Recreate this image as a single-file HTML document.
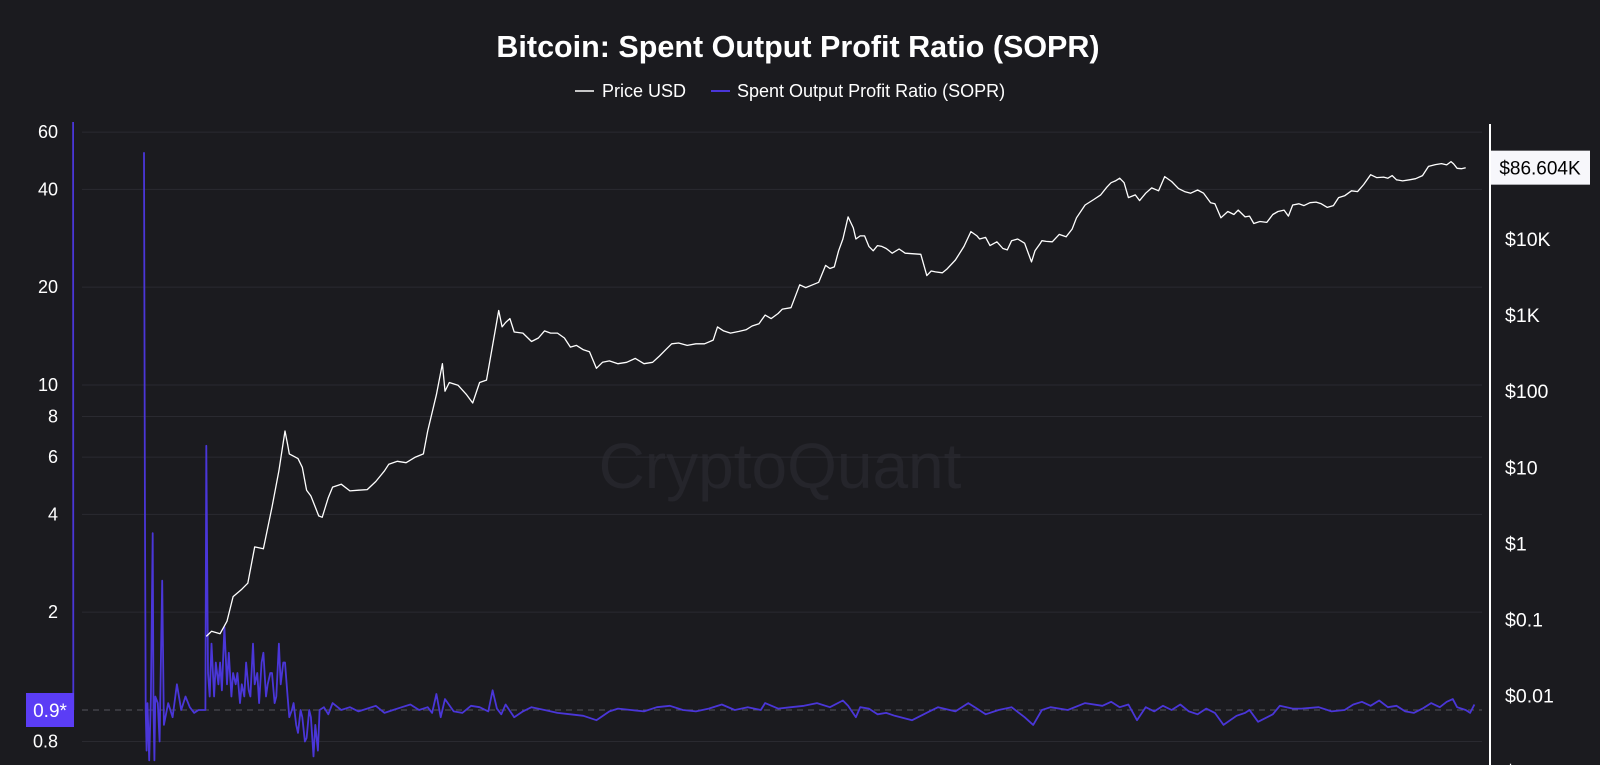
<!DOCTYPE html>
<html><head><meta charset="utf-8"><style>
html,body{margin:0;padding:0;background:#1b1b1f;}
body{width:1600px;height:765px;overflow:hidden;font-family:"Liberation Sans",sans-serif;}
</style></head><body>
<svg id="chart" width="1600" height="765" xmlns="http://www.w3.org/2000/svg" style="display:block">
<rect width="1600" height="765" fill="#1b1b1f"/>
<text x="798" y="57" text-anchor="middle" fill="#ffffff" font-size="30.5" font-weight="bold">Bitcoin: Spent Output Profit Ratio (SOPR)</text>
<g>
<g><line x1="575" y1="91" x2="594" y2="91" stroke="#ffffff" stroke-width="1.5"/><text x="602" y="97" fill="#ffffff" font-size="18">Price USD</text></g>
<g><line x1="711" y1="91" x2="730" y2="91" stroke="#4a36d8" stroke-width="2"/><text x="737" y="97" fill="#ffffff" font-size="18">Spent Output Profit Ratio (SOPR)</text></g>
</g>
<text x="780" y="488" text-anchor="middle" fill="#25252b" font-size="64">CryptoQuant</text>
<g id="grid"></g>
<g id="leftAxis"></g>
<g id="rightAxis"></g>
<g id="series"></g>
<g id="overlay"></g>
</svg>
<script>
const leftTicks=[60,40,20,10,8,6,4,2,0.8];
const rightTicks=[10000,1000,100,10,1,0.1,0.01,0.001];
const rightTickLabels=["$10K","$1K","$100","$10","$1","$0.1","$0.01","$0.001"];
const lastPriceLabel="$86.604K";
const soprMarkerLabel="0.9*";
const priceDates=[2010.54,2010.6,2010.7,2010.78,2010.85,2010.95,2011.02,2011.1,2011.2,2011.3,2011.38,2011.42,2011.45,2011.48,2011.5,2011.55,2011.6,2011.65,2011.7,2011.75,2011.8,2011.84,2011.88,2011.95,2012.0,2012.1,2012.2,2012.3,2012.4,2012.5,2012.6,2012.65,2012.75,2012.85,2012.95,2013.05,2013.1,2013.2,2013.27,2013.3,2013.35,2013.45,2013.55,2013.62,2013.7,2013.78,2013.85,2013.92,2013.96,2014.0,2014.05,2014.1,2014.2,2014.3,2014.38,2014.45,2014.52,2014.6,2014.68,2014.75,2014.82,2014.9,2014.97,2015.05,2015.12,2015.2,2015.3,2015.4,2015.5,2015.6,2015.7,2015.78,2015.85,2015.92,2016.0,2016.1,2016.2,2016.3,2016.4,2016.45,2016.52,2016.6,2016.7,2016.78,2016.85,2016.93,2017.0,2017.07,2017.15,2017.2,2017.3,2017.4,2017.47,2017.55,2017.62,2017.7,2017.75,2017.8,2017.85,2017.9,2017.96,2018.02,2018.05,2018.1,2018.15,2018.2,2018.25,2018.3,2018.35,2018.4,2018.47,2018.55,2018.62,2018.7,2018.8,2018.87,2018.92,2018.97,2019.05,2019.1,2019.2,2019.3,2019.38,2019.45,2019.48,2019.55,2019.6,2019.68,2019.75,2019.8,2019.85,2019.92,2020.0,2020.08,2020.12,2020.18,2020.2,2020.25,2020.32,2020.4,2020.48,2020.55,2020.6,2020.7,2020.8,2020.88,2020.95,2021.0,2021.05,2021.1,2021.15,2021.2,2021.28,2021.33,2021.4,2021.47,2021.55,2021.62,2021.7,2021.78,2021.85,2021.92,2022.0,2022.07,2022.15,2022.2,2022.27,2022.35,2022.42,2022.47,2022.55,2022.6,2022.65,2022.72,2022.8,2022.87,2022.93,2023.0,2023.05,2023.1,2023.17,2023.23,2023.3,2023.37,2023.43,2023.5,2023.57,2023.63,2023.7,2023.78,2023.85,2023.92,2024.0,2024.07,2024.15,2024.2,2024.25,2024.3,2024.37,2024.45,2024.52,2024.6,2024.67,2024.75,2024.82,2024.88,2024.93,2024.96,2025.0,2025.05,2025.1,2025.15,2025.2,2025.22];
const priceValues=[0.06,0.07,0.065,0.095,0.2,0.25,0.3,0.9,0.85,3,9,18,30,20,15,14,13,10,5,4.2,3,2.3,2.2,4,5.5,6,4.9,5,5.1,6.5,9,11,12,11.5,13.5,15,30,90,230,100,130,120,90,70,130,140,400,1150,700,800,900,600,580,450,500,620,580,580,500,380,400,350,330,200,240,250,230,240,270,230,240,290,350,420,430,400,420,420,470,700,620,580,610,640,720,770,1000,900,1050,1200,1250,2500,2300,2500,2700,4500,4100,4300,7000,10000,19500,14000,10000,11000,11000,8000,7000,8200,8000,7500,6500,7400,6500,6400,6300,3300,3800,3700,3600,4000,5300,8000,12500,11000,10000,10500,8200,9200,7500,7200,9500,10000,8800,5000,7000,8700,9500,9300,9200,11500,10700,13500,19000,28000,33000,38000,48000,55000,58000,63000,55000,35000,38000,32000,40000,47000,43000,66000,57000,46000,42000,40000,44000,40000,30000,29000,19000,23000,21000,24000,19500,20000,16000,17000,16500,21000,23000,24000,20000,28000,29000,27500,30000,30500,29000,26000,27500,35000,37000,43000,42000,52000,70000,64000,65000,63000,68000,60000,58000,60000,62000,68000,90000,95000,98000,94000,104000,97000,85000,84000,86604];
const soprDates=[2009.0,2009.003,null,2009.82,2009.83,2009.84,2009.85,2009.86,2009.88,2009.9,2009.92,2009.93,2009.94,2009.95,2009.98,2010.0,2010.03,2010.05,2010.1,2010.15,2010.2,2010.25,2010.3,2010.35,2010.4,2010.45,2010.53,2010.54,2010.56,2010.58,2010.6,2010.63,2010.65,2010.68,2010.7,2010.72,2010.75,2010.78,2010.8,2010.83,2010.85,2010.88,2010.9,2010.93,2010.95,2010.98,2011.0,2011.03,2011.05,2011.08,2011.1,2011.13,2011.15,2011.18,2011.2,2011.23,2011.25,2011.28,2011.3,2011.33,2011.35,2011.38,2011.4,2011.43,2011.45,2011.48,2011.5,2011.53,2011.55,2011.58,2011.6,2011.63,2011.65,2011.68,2011.7,2011.73,2011.75,2011.78,2011.8,2011.83,2011.85,2011.9,2011.95,2012.0,2012.1,2012.2,2012.3,2012.4,2012.5,2012.6,2012.7,2012.8,2012.9,2013.0,2013.1,2013.15,2013.2,2013.25,2013.3,2013.4,2013.5,2013.6,2013.7,2013.8,2013.85,2013.9,2013.95,2014.0,2014.1,2014.2,2014.3,2014.45,2014.6,2014.75,2014.9,2015.05,2015.2,2015.3,2015.45,2015.6,2015.75,2015.9,2016.05,2016.2,2016.35,2016.5,2016.65,2016.8,2016.95,2017.0,2017.15,2017.3,2017.45,2017.6,2017.75,2017.9,2017.96,2018.05,2018.1,2018.2,2018.3,2018.4,2018.5,2018.7,2018.9,2019.0,2019.2,2019.35,2019.45,2019.55,2019.7,2019.85,2020.0,2020.1,2020.2,2020.3,2020.5,2020.7,2020.9,2021.0,2021.1,2021.2,2021.3,2021.4,2021.5,2021.6,2021.7,2021.8,2021.9,2022.0,2022.1,2022.2,2022.3,2022.45,2022.55,2022.6,2022.7,2022.87,2022.95,2023.1,2023.2,2023.4,2023.55,2023.7,2023.8,2023.9,2024.0,2024.1,2024.2,2024.3,2024.4,2024.5,2024.6,2024.7,2024.8,2024.88,2024.95,2025.0,2025.1,2025.15,2025.2,2025.22];
const soprValues=[70,1.0,null,52,4.5,1.0,0.75,1.05,0.7,1.1,3.5,1.0,0.7,1.1,1.05,0.8,2.5,0.9,1.05,0.95,1.2,1.0,1.1,1.02,0.98,1.0,1.0,6.5,1.3,1.1,1.6,1.1,1.4,1.2,1.4,1.15,1.8,1.2,1.5,1.1,1.3,1.2,1.3,1.05,1.2,1.1,1.4,1.15,1.1,1.6,1.2,1.3,1.05,1.4,1.5,1.1,1.2,1.3,1.3,1.05,1.1,1.6,1.2,1.4,1.4,1.1,0.95,1.0,1.05,0.9,0.85,1.0,0.95,0.8,0.82,1.0,0.95,0.72,0.9,0.75,1.0,1.02,0.97,1.05,1.0,1.02,0.99,1.01,1.03,0.98,1.0,1.02,1.04,1.0,1.02,0.98,1.12,0.95,1.08,0.99,0.98,1.03,1.02,0.99,1.15,1.01,0.97,1.04,0.95,0.99,1.02,1.0,0.98,0.97,0.96,0.93,0.99,1.01,1.0,0.99,1.02,1.03,1.0,0.99,1.01,1.04,1.0,1.02,1.0,1.05,1.01,1.02,1.03,1.05,1.02,1.07,1.03,0.95,1.02,1.01,0.97,0.98,0.96,0.93,0.99,1.02,0.99,1.05,1.01,0.97,1.0,1.02,0.95,0.9,1.0,1.02,1.0,1.05,1.03,1.06,1.02,1.04,0.93,1.02,0.99,1.03,1.0,1.04,0.99,0.97,1.01,0.98,0.9,0.96,0.98,1.0,0.92,0.97,1.03,1.01,1.01,1.02,0.99,1.0,1.04,1.06,1.03,1.07,1.02,1.03,0.99,0.98,1.01,1.05,1.02,1.06,1.08,1.02,1.0,0.98,1.04];

const NS="http://www.w3.org/2000/svg";
const X0=82,X1=1482;
function xScale(t){return 285+86.5*(t-2011.45);}
function yLeft(v){return 385-325*(Math.log10(v)-1);}
function yRight(p){return 239-76.1*(Math.log10(p)-4);}
function mk(tag,attrs,parent){const e=document.createElementNS(NS,tag);for(const k in attrs)e.setAttribute(k,attrs[k]);parent.appendChild(e);return e;}

const grid=document.getElementById('grid');
const la=document.getElementById('leftAxis');
leftTicks.forEach(v=>{
  const y=yLeft(v);
  const g=mk('line',{x1:X0,x2:X1,y1:y,y2:y,stroke:'#2a2a30','stroke-width':1},grid);
  
  
  const t=mk('text',{x:58,y:y+6,'text-anchor':'end',fill:'#ffffff','font-size':18},la);
  t.textContent=String(v);
  
  
});
const ra=document.getElementById('rightAxis');
rightTicks.forEach((p,i)=>{
  const t=mk('text',{x:1505,y:yRight(p)+7,fill:'#ffffff','font-size':19.5},ra);
  t.textContent=rightTickLabels[i];
  
  
});
const rline=mk('line',{x1:1490,x2:1490,y1:124,y2:765,stroke:'#ffffff','stroke-width':2},ra);



const ser=document.getElementById('series');
const base=mk('line',{x1:X0,x2:X1,y1:yLeft(1),y2:yLeft(1),stroke:'#55555c','stroke-width':1,'stroke-dasharray':'6 5'},ser);



function clampY(y){return Math.max(122,Math.min(770,y));}
let d='',pen=false;
soprDates.forEach((t,i)=>{
  if(t===null||soprValues[i]===null){pen=false;return;}
  d+=(pen?'L':'M')+xScale(t).toFixed(1)+','+clampY(yLeft(soprValues[i])).toFixed(1);pen=true;
});
const sp=mk('path',{d:d,fill:'none',stroke:'#4a36d8','stroke-width':1.8,'stroke-linejoin':'round'},ser);



let pd='';
priceDates.forEach((t,i)=>{pd+=(i?'L':'M')+xScale(t).toFixed(1)+','+yRight(priceValues[i]).toFixed(1);});
const pp=mk('path',{d:pd,fill:'none',stroke:'#ffffff','stroke-width':1.3,'stroke-linejoin':'round'},ser);



const ov=document.getElementById('overlay');
const lastY=yRight(priceValues[priceValues.length-1]);
const pb=mk('rect',{x:1491,y:lastY-17,width:99,height:34,fill:'#f7f7fb'},ov);


const pt=mk('text',{x:1540,y:lastY+7,'text-anchor':'middle',fill:'#000000','font-size':19},ov);
pt.textContent=lastPriceLabel;


const sy=yLeft(1);
const sb=mk('rect',{x:26,y:sy-17,width:48,height:34,fill:'#5b3df5'},ov);


const st=mk('text',{x:50,y:sy+7,'text-anchor':'middle',fill:'#ffffff','font-size':19},ov);
st.textContent=soprMarkerLabel;


</script>
</body></html>
